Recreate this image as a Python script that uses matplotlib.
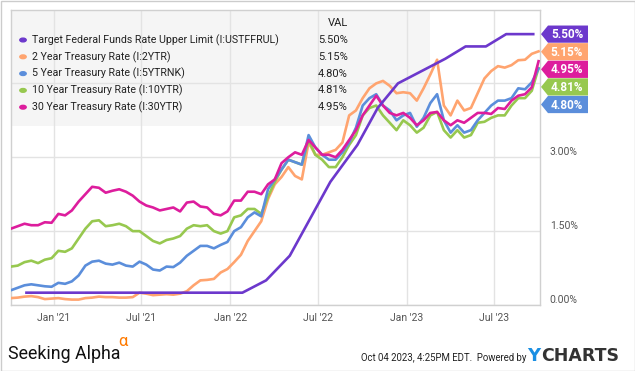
import numpy as np
import pandas as pd
import matplotlib
matplotlib.use("Agg")
import matplotlib.pyplot as plt
import matplotlib.dates as mdates
from matplotlib.patches import Rectangle, Polygon

# biweekly readings
dates = pd.date_range("2020-10-04", periods=79, freq="14D")

rate_2y = [0.14, 0.15, 0.17, 0.18, 0.16, 0.12, 0.13, 0.14, 0.12, 0.11,
           0.11, 0.14, 0.15, 0.17, 0.16, 0.16, 0.15, 0.15, 0.16, 0.25,
           0.23, 0.20, 0.21, 0.22, 0.21, 0.23, 0.28, 0.40, 0.50, 0.51,
           0.53, 0.66, 0.73, 0.87, 1.02, 1.30, 1.50, 1.70, 2.15, 2.45,
           2.60, 2.80, 2.62, 2.55, 3.30, 3.05, 3.05, 3.10, 3.15, 3.30,
           3.85, 3.95, 4.20, 4.40, 4.50, 4.55, 4.45, 4.30, 4.32, 4.30,
           4.15, 4.40, 4.68, 4.98, 4.05, 3.85, 4.15, 3.95, 4.00, 4.30,
           4.60, 4.75, 4.85, 4.82, 4.87, 4.97, 4.98, 5.10, 5.15]

rate_5y = [0.30, 0.35, 0.40, 0.42, 0.40, 0.38, 0.37, 0.45, 0.43, 0.48,
           0.60, 0.80, 0.88, 0.90, 0.84, 0.82, 0.86, 0.80, 0.78, 0.88,
           0.82, 0.72, 0.70, 0.78, 0.77, 0.86, 1.00, 1.10, 1.20, 1.20,
           1.15, 1.22, 1.28, 1.50, 1.58, 1.78, 1.88, 1.80, 2.35, 2.55,
           2.75, 2.95, 2.90, 2.85, 3.45, 3.20, 3.05, 2.95, 2.95, 3.10,
           3.30, 3.60, 4.05, 4.20, 4.28, 4.05, 3.95, 3.75, 3.85, 3.90,
           3.62, 3.80, 4.10, 4.28, 3.75, 3.50, 3.65, 3.50, 3.55, 3.75,
           3.90, 4.05, 4.15, 4.15, 4.20, 4.40, 4.38, 4.52, 4.80]

rate_10y = [0.78, 0.80, 0.87, 0.90, 0.85, 0.92, 0.95, 1.10, 1.08, 1.15,
            1.35, 1.55, 1.70, 1.72, 1.60, 1.62, 1.65, 1.60, 1.50, 1.50,
            1.40, 1.30, 1.25, 1.32, 1.35, 1.40, 1.55, 1.62, 1.60, 1.62,
            1.50, 1.45, 1.50, 1.78, 1.82, 1.95, 1.95, 1.85, 2.20, 2.50,
            2.75, 2.95, 2.90, 2.85, 3.35, 3.05, 2.95, 2.80, 2.80, 3.00,
            3.25, 3.45, 3.85, 4.00, 4.05, 3.85, 3.70, 3.55, 3.75, 3.65,
            3.50, 3.60, 3.85, 3.92, 3.55, 3.40, 3.55, 3.40, 3.45, 3.70,
            3.72, 3.80, 3.85, 3.85, 4.05, 4.20, 4.20, 4.35, 4.81]

rate_30y = [1.55, 1.60, 1.65, 1.62, 1.62, 1.68, 1.67, 1.85, 1.82, 1.92,
            2.10, 2.25, 2.40, 2.38, 2.28, 2.32, 2.35, 2.30, 2.22, 2.10,
            2.02, 1.98, 1.92, 1.95, 1.98, 1.90, 2.08, 2.10, 2.00, 1.98,
            1.85, 1.82, 1.90, 2.12, 2.12, 2.30, 2.30, 2.25, 2.45, 2.55,
            2.88, 3.00, 3.10, 3.05, 3.35, 3.20, 3.05, 3.05, 3.00, 3.15,
            3.35, 3.55, 3.85, 4.05, 4.25, 4.05, 3.90, 3.85, 3.90, 3.80,
            3.65, 3.75, 3.90, 3.92, 3.75, 3.65, 3.75, 3.70, 3.80, 3.90,
            3.90, 3.88, 4.00, 3.98, 4.15, 4.25, 4.28, 4.42, 4.95]

# fed funds upper limit, at FOMC meetings
fomc_dates = pd.to_datetime([
    "2020-11-05", "2020-12-16", "2021-01-27", "2021-03-17", "2021-04-28",
    "2021-06-16", "2021-07-28", "2021-09-22", "2021-11-03", "2021-12-15",
    "2022-01-26", "2022-03-16", "2022-05-04", "2022-06-15", "2022-07-27",
    "2022-09-21", "2022-11-02", "2022-12-14", "2023-02-01", "2023-03-22",
    "2023-05-03", "2023-06-14", "2023-07-26", "2023-09-20"])
fed_upper = [0.25, 0.25, 0.25, 0.25, 0.25, 0.25, 0.25, 0.25, 0.25, 0.25,
             0.25, 0.50, 1.00, 1.75, 2.50, 3.25, 4.00, 4.50, 4.75, 5.00,
             5.25, 5.25, 5.50, 5.50]

names = ["Target Federal Funds Rate Upper Limit (I:USTFFRUL)",
         "2 Year Treasury Rate (I:2YTR)",
         "5 Year Treasury Rate (I:5YTRNK)",
         "10 Year Treasury Rate (I:10YTR)",
         "30 Year Treasury Rate (I:30YTR)"]
last_vals = [5.50, 5.15, 4.80, 4.81, 4.95]
colors = ["#6c38cc", "#ffa46f", "#5b8edb", "#97c84f", "#dd1d9d"]

plt.rcParams["font.family"] = ["Roboto", "DejaVu Sans"]

W, H = 635, 371
fig = plt.figure(figsize=(W / 100, H / 100), dpi=100)
fig.patch.set_facecolor("white")


def px(x, y):
    return x / W, 1 - y / H


ax = fig.add_axes([11 / W, (H - 305) / H, (540 - 11) / W, (305 - 9.5) / H])
ax.set_xlim(pd.Timestamp("2020-10-04"), pd.Timestamp("2023-10-04"))
ax.set_ylim(0, 6)

series = [(rate_2y, 1), (rate_10y, 3), (rate_5y, 2), (rate_30y, 4)]
for vals, k in series:
    ax.plot(dates, vals, color=colors[k], lw=1.9, zorder=3)
ax.plot(fomc_dates, fed_upper, color=colors[0], lw=1.9, zorder=4)

ax.set_axisbelow(True)
ax.grid(True, color="#e3e3e3", lw=1)
ax.set_yticks([0, 1.5, 3.0, 4.5])
ax.set_yticklabels(["0.00%", "1.50%", "3.00%", ""])
ax.yaxis.tick_right()
ax.tick_params(axis="y", length=0, pad=7, labelsize=7.5, labelcolor="#555555")
for lab in ax.get_yticklabels():
    lab.set_va("bottom")
ax.xaxis.set_major_locator(mdates.MonthLocator(bymonth=[1, 7]))
ax.xaxis.set_major_formatter(mdates.DateFormatter("%b '%y"))
ax.tick_params(axis="x", length=0, pad=6, labelsize=7.5, labelcolor="#555555")
for s in ax.spines.values():
    s.set_color("#d0d0d0")
    s.set_linewidth(1)

# legend panel
ax.add_patch(Rectangle((0, (305 - 126) / (305 - 9.5)), (430 - 11) / (540 - 11),
                       1, transform=ax.transAxes, facecolor="#f5f5f5",
                       edgecolor="none", zorder=0.1))
fig.text(*px(348, 23), "VAL", ha="right", va="center", fontsize=8,
         color="#222222", zorder=6)
for i, (nm, v) in enumerate(zip(names, last_vals)):
    yy = 40 + i * 16.8
    fig.text(*px(32, yy), nm, ha="left", va="center", fontsize=7.7,
             color="#222222", zorder=6)
    fig.text(*px(348, yy), f"{v:.2f}%", ha="right", va="center", fontsize=8,
             color="#222222", zorder=6)
    fig.patches.append(plt.Circle(px(23, yy), 3.2 / W, color=colors[i],
                                  transform=fig.transFigure, figure=fig))

# value tags on the right
order = sorted(range(5), key=lambda k: -last_vals[k])
prev = None
for k in order:
    yc = H - ax.transData.transform((0, last_vals[k]))[1] + (H - fig.bbox.height)
    if prev is not None:
        yc = max(yc, prev + 17.6)
    prev = yc
    pts = [px(541, yc), px(548, yc - 8.6), px(588, yc - 8.6),
           px(588, yc + 8.6), px(548, yc + 8.6)]
    fig.patches.append(Polygon(pts, closed=True, facecolor=colors[k],
                               edgecolor="none", transform=fig.transFigure,
                               figure=fig))
    fig.text(*px(567, yc + 0.5), f"{last_vals[k]:.2f}%", ha="center",
             va="center", fontsize=8.5, fontweight="bold", color="white")

# footer
fig.text(*px(8, 354), "Seeking Alpha", ha="left", va="center", fontsize=12.8,
         color="#111111")
fig.text(*px(118, 341), "\u03b1", ha="left", va="center", fontsize=12,
         color="#ff7a00")
fig.text(*px(526, 358), "Oct 04 2023, 4:25PM EDT.  Powered by", ha="right",
         va="center", fontsize=6.9, color="#222222")
fig.text(*px(527, 356), "Y", ha="left", va="center", fontsize=13,
         fontweight="bold", color="#1a8fe3", family="DejaVu Sans")
fig.text(*px(541, 356), "CHARTS", ha="left", va="center", fontsize=12.5,
         fontweight="bold", color="#333333", family="DejaVu Sans")

fig.patches.append(Rectangle((0.5 / W, 0.5 / H), 1 - 1 / W, 1 - 1 / H,
                             transform=fig.transFigure, figure=fig,
                             facecolor="none", edgecolor="#cccccc", lw=1))

fig.savefig("out.png", dpi=100)
